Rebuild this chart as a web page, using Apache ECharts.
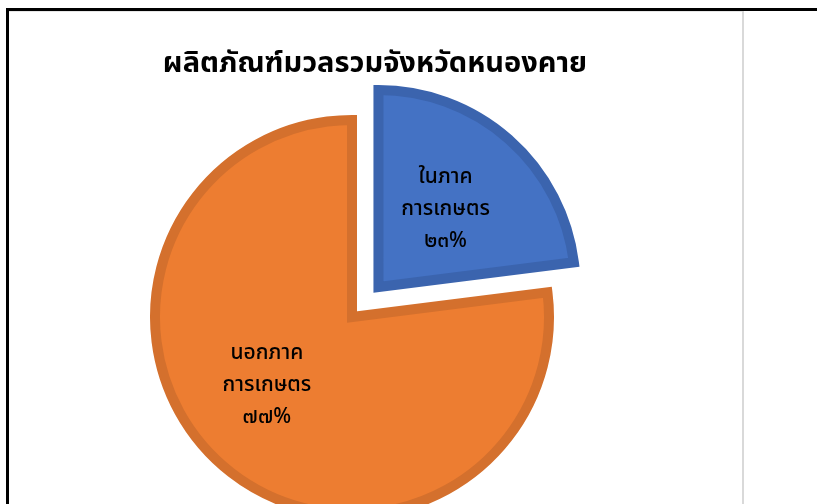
<!DOCTYPE html>
<html>
<head>
<meta charset="utf-8">
<script src="https://cdn.jsdelivr.net/npm/echarts@6/dist/echarts.min.js"></script>
<style>
html,body{margin:0;padding:0;background:#fff;}
#c{width:817px;height:504px;}
</style>
</head>
<body>
<div id="c"></div>
<script>
const titleText = 'ผลิตภัณฑ์มวลรวมจังหวัดหนองคาย';
const categories = ['ในภาค\nการเกษตร', 'นอกภาค\nการเกษตร'];
const values = [23, 77];
const fillColors = ['#4472C4', '#ED7D31'];
const borderColors = ['#3B64AE', '#D4702D'];

const thaiDigits = ['๐','๑','๒','๓','๔','๕','๖','๗','๘','๙'];
function toThai(s){ return String(s).replace(/[0-9]/g, d => thaiDigits[+d]); }

const chart = echarts.init(document.getElementById('c'), null, {renderer:'canvas'});
const FONT = '"Noto Sans Thai","Noto Sans",Tahoma,sans-serif';
chart.setOption({
  animation:false,
  title:{
    text:titleText, left:370, top:47, textAlign:'center',
    textStyle:{fontFamily:FONT, fontSize:29, fontWeight:'bold', color:'#000'}
  },
  graphic:[
    {type:'rect', shape:{x:6, y:8, width:811, height:3}, style:{fill:'#000'}},
    {type:'rect', shape:{x:6, y:8, width:3, height:496}, style:{fill:'#000'}},
    {type:'rect', shape:{x:9, y:11, width:733, height:1}, style:{fill:'#E6E6E6'}},
    {type:'rect', shape:{x:742, y:11, width:2, height:493}, style:{fill:'#D9D9D9'}}
  ],
  series:[{
    type:'pie',
    center:[352, 317],
    radius:197,
    startAngle:90,
    clockwise:true,
    selectedMode:'single',
    selectedOffset:40,
    silent:true,
    label:{
      show:true, position:'inside', color:'#000',
      fontFamily:FONT, fontSize:21, fontWeight:500, lineHeight:32,
      formatter: p => p.name + '\n' + toThai(Math.round(p.percent)) + '%'
    },
    labelLine:{show:false},
    data: values.map((v,i)=>({
      value:v, name:categories[i], selected:i===0,
      itemStyle:{color:fillColors[i], borderColor:borderColors[i], borderWidth:10, borderJoin:'miter'},
      label: i===1 ? {offset:[-18,-6]} : {offset:[3,2]}
    }))
  }]
});
</script>
</body>
</html>
